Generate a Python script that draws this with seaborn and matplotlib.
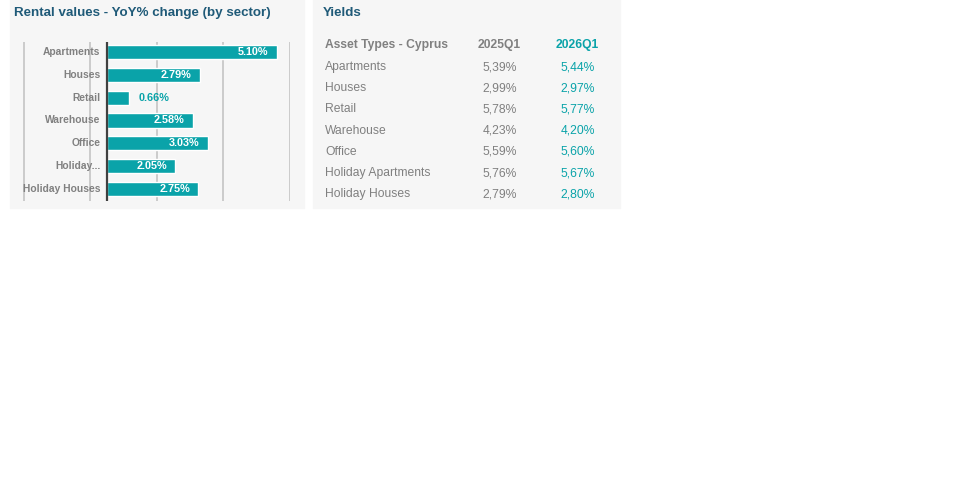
import pandas as pd
import matplotlib
matplotlib.use("Agg")
import matplotlib.pyplot as plt
from matplotlib.patches import Rectangle
import seaborn as sns

# chart data
sectors = ["Apartments", "Houses", "Retail", "Warehouse", "Office", "Holiday...", "Holiday Houses"]
yoy_change = [5.10, 2.79, 0.66, 2.58, 3.03, 2.05, 2.75]

# yields table
asset_types = ["Apartments", "Houses", "Retail", "Warehouse", "Office",
               "Holiday Apartments", "Holiday Houses"]
yield_2025q1 = ["5,39%", "2,99%", "5,78%", "4,23%", "5,59%", "5,76%", "2,79%"]
yield_2026q1 = ["5,44%", "2,97%", "5,77%", "4,20%", "5,60%", "5,67%", "2,80%"]

teal = "#0aa3a9"
navy = "#1f5a78"
grey = "#808080"
panel_bg = "#f6f6f6"

sns.set_style("white")
plt.rcParams["font.family"] = ["Liberation Sans", "DejaVu Sans"]

W, H = 979, 497
fig = plt.figure(figsize=(W / 100, H / 100), dpi=100)
fig.patch.set_facecolor("white")


def px(x, y):
    # pixel (from top-left) to figure coords
    return x / W, 1 - y / H


# panel backgrounds
for x0, x1 in [(10, 304), (313, 620)]:
    fig.patches.append(Rectangle((x0 / W, 1 - 208 / H), (x1 - x0) / W, 208 / H,
                                 transform=fig.transFigure, color=panel_bg, zorder=-5))

fig.text(*px(14, 13), "Rental values - YoY% change (by sector)", fontsize=9.6,
         fontweight="bold", color=navy, va="center", ha="left")
fig.text(*px(323, 13), "Yields", fontsize=9.6, fontweight="bold", color=navy,
         va="center", ha="left")

# bar chart
ax = fig.add_axes([23 / W, (H - 201) / H, 267 / W, 159 / H], zorder=2)
ax.patch.set_alpha(0)
df = pd.DataFrame({"sector": sectors, "value": yoy_change})
sns.barplot(data=df, x="value", y="sector", orient="h", color=teal, saturation=1,
            width=0.62, ax=ax, zorder=3)
ax.set_xlim(-2.52, 5.5)
ax.set_ylim(6.53, -0.44)
ax.set_xticks([-2.5, -0.5, 1.5, 3.5, 5.5])
ax.set_xticklabels([])
ax.set_xlabel("")
ax.set_ylabel("")
ax.set_axisbelow(True)
ax.grid(True, axis="x", color="#c4c4c4", lw=1.2)
ax.axvline(0, color="#404040", lw=1.6, zorder=4)
for s in ax.spines.values():
    s.set_visible(False)
ax.tick_params(axis="both", length=0)
ax.set_yticks([])
scale = 267 / (5.5 + 2.52)
for i, (name, v) in enumerate(zip(sectors, yoy_change)):
    ax.text(-0.2, i, name, ha="right", va="center", fontsize=7.4, fontweight="bold",
            color=grey, zorder=2)
    if v > 1:
        ax.text(v - 8 / scale, i, f"{v:.2f}%", ha="right", va="center", fontsize=7.8,
                fontweight="bold", color="white", zorder=5)
    else:
        ax.text(v + 10 / scale, i, f"{v:.2f}%", ha="left", va="center", fontsize=7.8,
                fontweight="bold", color=teal, zorder=5)

# yields table
fig.text(*px(325, 45), "Asset Types - Cyprus", fontsize=8.7, fontweight="bold",
         color=grey, va="center", ha="left")
fig.text(*px(499, 45), "2025Q1", fontsize=8.7, fontweight="bold", color=grey,
         va="center", ha="center")
fig.text(*px(577, 45), "2026Q1", fontsize=8.7, fontweight="bold", color=teal,
         va="center", ha="center")
for i, (a, y1, y2) in enumerate(zip(asset_types, yield_2025q1, yield_2026q1)):
    yy = 67 + i * 21.2
    fig.text(*px(325, yy), a, fontsize=8.7, color=grey, va="center", ha="left")
    fig.text(*px(500, yy), y1, fontsize=8.7, color=grey, va="center", ha="center")
    fig.text(*px(577.5, yy), y2, fontsize=8.7, color=teal, va="center", ha="center")

fig.savefig("out.png", dpi=100)
